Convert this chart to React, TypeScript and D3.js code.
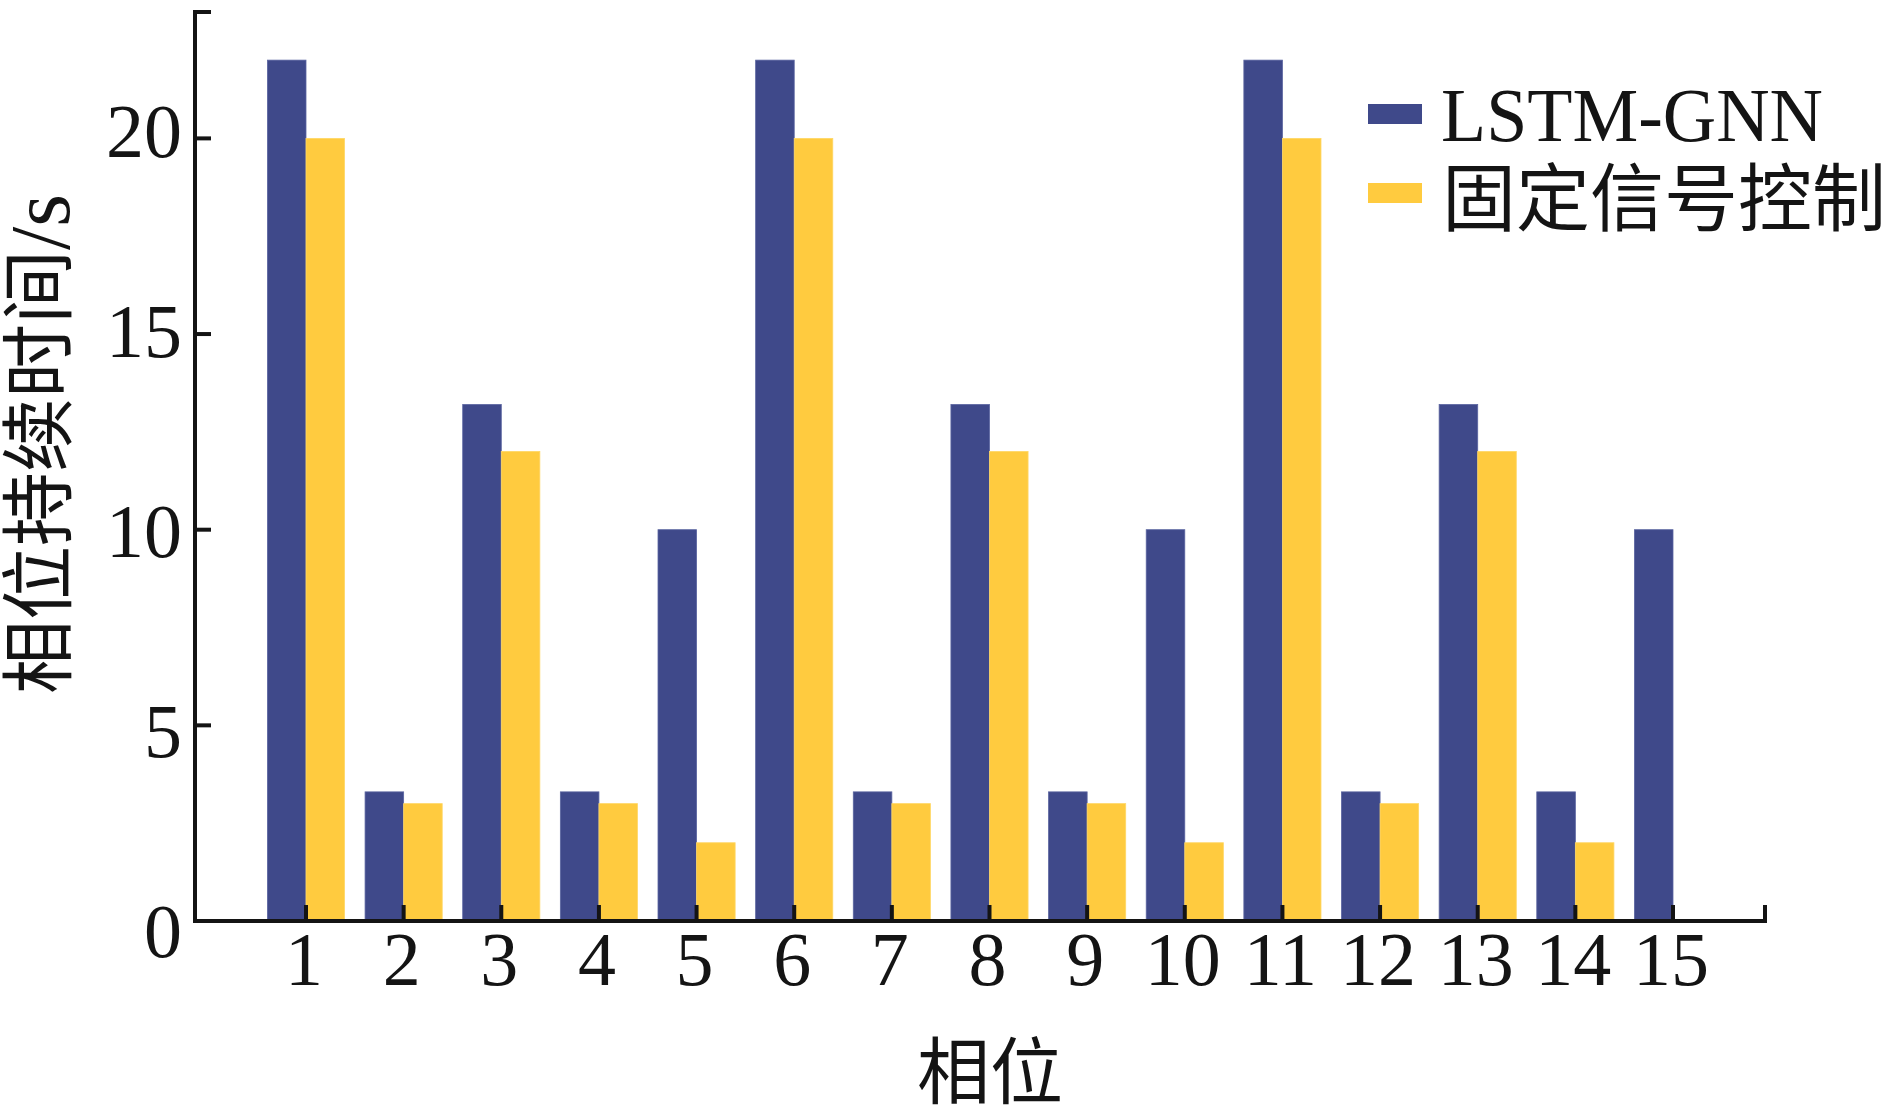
import React, { useEffect } from 'react';
import * as d3 from 'd3';

const phases = [1, 2, 3, 4, 5, 6, 7, 8, 9, 10, 11, 12, 13, 14, 15];
const lstmGnn = [22, 3.3, 13.2, 3.3, 10, 22, 3.3, 13.2, 3.3, 10, 22, 3.3, 13.2, 3.3, 10];
const fixedSignal = [20, 3, 12, 3, 2, 20, 3, 12, 3, 2, 20, 3, 12, 2, 0];
const yTicks = [0, 5, 10, 15, 20];
const seriesNames = ['LSTM-GNN', '固定信号控制'];
const seriesColors = ['#3f498a', '#ffcb3f'];

const W = 1890;
const H = 1110;
const FONT = '"Liberation Serif", "Times New Roman", "Noto Sans CJK SC", serif';

const App: React.FC = () => {
  useEffect(() => {
    document.body.style.margin = '0';
  }, []);

  // plot frame
  const left = 195;
  const right = 1765;
  const bottom = 921;
  const top = 12;

  const x = d3.scaleLinear().domain([1, 15]).range([306, 1673]);
  const y = d3.scaleLinear().domain([0, 23.23]).range([bottom, top]);
  // tick labels in the source sit on a slightly wider spacing than the ticks
  const yLabel = d3.scaleLinear().domain([0, 20]).range([957, 157]);
  const bw = (x(2) - x(1)) * 0.395;

  return (
    <svg width={W} height={H} viewBox={`0 0 ${W} ${H}`} style={{ display: 'block', background: '#fff' }}>
      {/* bars */}
      <g>
        {phases.map((p, i) => (
          <g key={p}>
            <rect x={x(p) - bw} y={y(lstmGnn[i])} width={bw} height={bottom - y(lstmGnn[i])}
              fill={seriesColors[0]} stroke="#5a64a0" strokeWidth={0.8} />
            {fixedSignal[i] > 0 && (
              <rect x={x(p)} y={y(fixedSignal[i])} width={bw} height={bottom - y(fixedSignal[i])}
                fill={seriesColors[1]} stroke="#ffd766" strokeWidth={0.8} />
            )}
          </g>
        ))}
      </g>

      {/* axes */}
      <g stroke="#141414" strokeWidth={4} fill="none">
        <path d={`M${left + 16},${top} H${left} V${bottom} H${right} V${bottom - 16}`} />
        {yTicks.map(t => (
          <line key={t} x1={left} x2={left + 16} y1={y(t)} y2={y(t)} />
        ))}
        {phases.map(p => (
          <line key={p} x1={x(p)} x2={x(p)} y1={bottom} y2={bottom - 16} />
        ))}
      </g>

      {/* y tick labels */}
      <g fontFamily={FONT} fontSize={76} fill="#141414" textAnchor="end">
        {yTicks.map(t => (
          <text key={t} x={182} y={yLabel(t)}>{t}</text>
        ))}
      </g>

      {/* x tick labels */}
      <g fontFamily={FONT} fontSize={76} fill="#141414" textAnchor="middle">
        {phases.map(p => (
          <text key={p} x={x(p) - 2} y={985}>{p}</text>
        ))}
      </g>

      {/* axis titles */}
      <text x={990} y={1073} fontFamily={FONT} fontSize={73} fill="#141414" textAnchor="middle"
        dominantBaseline="central">相位</text>
      <text transform="translate(40,444) rotate(-90)" fontFamily={FONT} fontSize={74} fill="#141414"
        textAnchor="middle" dominantBaseline="central">相位持续时间<tspan fontSize={84}>/s</tspan></text>

      {/* legend */}
      <g fontFamily={FONT} fill="#141414">
        <rect x={1368} y={104} width={54} height={20} fill={seriesColors[0]} />
        <text x={1441} y={141} fontSize={76} textLength={382} lengthAdjust="spacingAndGlyphs">{seriesNames[0]}</text>
        <rect x={1368} y={183} width={54} height={20} fill={seriesColors[1]} />
        <text x={1442} y={225} fontSize={74}>{seriesNames[1]}</text>
      </g>
    </svg>
  );
};

export default App;
